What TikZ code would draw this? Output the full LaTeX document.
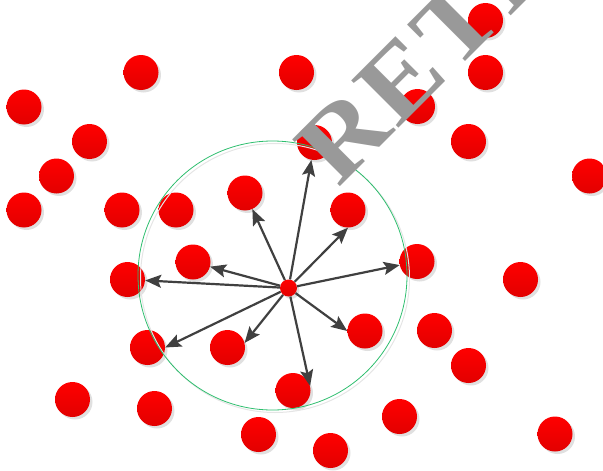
\documentclass[tikz,border=0pt]{standalone}
\usepackage{fontspec}
\setmainfont{Liberation Serif}
\usetikzlibrary{arrows.meta,shadows}
\definecolor{dotbot}{RGB}{226,0,0}
\definecolor{ringgreen}{RGB}{46,190,110}
\definecolor{arrowgray}{RGB}{64,64,64}
\definecolor{textgray}{RGB}{153,153,153}
\begin{document}
\begin{tikzpicture}[x=1pt,y=-1pt,
  dot/.style={circle, inner sep=0pt, minimum size=35pt, draw=none,
    top color=red, bottom color=dotbot,
    drop shadow={shadow xshift=2.5pt, shadow yshift=-2.5pt, fill=black, opacity=0.12}},
  ring/.style={circle, inner sep=0pt, minimum size=269pt, draw=ringgreen, line width=0.8pt},
  ringshadow/.style={circle, inner sep=0pt, minimum size=269pt, draw=black!10, line width=1pt},
  arr/.style={draw=arrowgray, line width=2.2pt, -{Stealth[length=16pt, width=13pt, inset=3pt]}},
  title/.style={rotate=45, xscale=1.1, anchor=base west, inner sep=0pt, text=textgray,
    font=\fontsize{102}{102}\selectfont\bfseries\addfontfeatures{LetterSpace=3}}]
\useasboundingbox (0,0) rectangle (603,471);
\clip (0,0) rectangle (603,471);
\foreach \i/\x/\y in {
  1/141/72.5, 2/296.5/72.5, 3/24/107, 4/89.5/141.5, 5/56.5/176, 6/24/210,
  7/122/210, 8/176/210, 9/245/193, 10/314.5/142.5, 11/348/210, 12/417.5/106.5,
  13/485.5/72.5, 14/485.5/20.5, 15/468.5/141.5, 16/589.5/176, 17/193/262,
  18/127.5/279.5, 19/417/261.5, 20/520.5/279.5, 21/147.5/347.5, 22/227.5/347.5,
  23/365/331, 24/434.5/330.5, 25/468.5/365.5, 26/72.5/399.5, 27/154.5/408.5,
  28/293/390.5, 29/399.5/416.5, 30/258.5/434.5, 31/330.5/450.5, 32/555/434}
  {\node[dot] (d\i) at (\x,\y) {};}
\node[ringshadow] (rs) at (275,278) {};
\node[ring] (ring) at (272.5,275.5) {};
\node[dot, minimum size=17pt] (c) at (288.5,288) {};
\draw[arr] (c) -- (d10);
\draw[arr] (c) -- (d9);
\draw[arr] (c) -- (d11.south);
\draw[arr] (c) -- (d19);
\draw[arr] (c) -- (d17);
\draw[arr] (c) -- (d18);
\draw[arr] (c) -- (d21.east);
\draw[arr] (c) -- (d22.15);
\draw[arr] (c) -- (d23.west);
\draw[arr] (c) -- (d28.15);
\node[title] (t) at (338,189) {RETI};
\end{tikzpicture}
\end{document}
